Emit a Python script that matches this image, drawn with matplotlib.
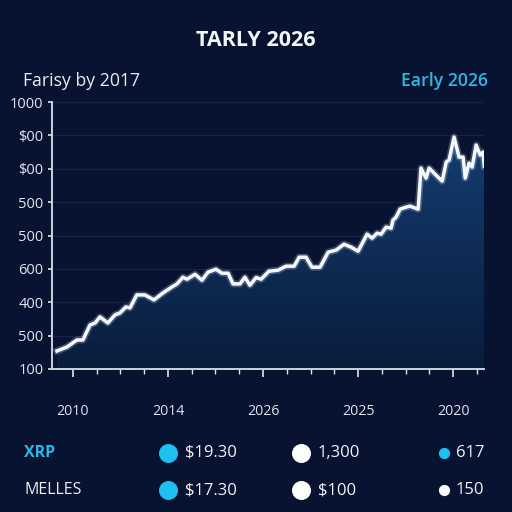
import numpy as np
import matplotlib.pyplot as plt
from matplotlib.path import Path
from matplotlib.patches import PathPatch
from matplotlib.colors import LinearSegmentedColormap

plt.rcParams['font.family'] = ['Open Sans', 'DejaVu Sans']

# line data (x in tick units, y in axis units)
xs = [-0.67, -0.25, 0.17, 0.42, 0.72, 0.93, 1.14, 1.47, 1.77, 1.98, 2.23, 2.40,
      2.69, 3.03, 3.41, 3.79, 4.17, 4.38, 4.63, 4.80, 5.14, 5.43, 5.68, 6.02,
      6.27, 6.53, 6.74, 7.03, 7.24, 7.45, 7.71, 7.92, 8.25, 8.63, 8.97, 9.31,
      9.52, 9.81, 10.06, 10.40, 10.74, 11.07, 11.41, 11.71, 12.00, 12.38, 12.59,
      12.80, 12.97, 13.18, 13.39, 13.47, 13.60, 13.77, 14.02, 14.19, 14.53,
      14.65, 14.86, 14.99, 15.28, 15.54, 15.71, 15.83, 16.04, 16.25, 16.42,
      16.51, 16.67, 16.80, 16.97, 17.14, 17.26, 17.31]
ys = [0.54, 0.66, 0.87, 0.87, 1.32, 1.38, 1.56, 1.38, 1.62, 1.68, 1.86, 1.83,
      2.22, 2.22, 2.07, 2.28, 2.46, 2.55, 2.75, 2.69, 2.84, 2.66, 2.90, 2.99,
      2.87, 2.87, 2.55, 2.55, 2.75, 2.51, 2.74, 2.69, 2.93, 2.96, 3.08, 3.08,
      3.35, 3.35, 3.05, 3.05, 3.50, 3.56, 3.74, 3.65, 3.53, 4.04, 3.92, 4.07,
      4.04, 4.25, 4.22, 4.46, 4.55, 4.79, 4.85, 4.88, 4.79, 6.02, 5.72, 6.02,
      5.81, 5.63, 6.20, 6.26, 6.95, 6.35, 6.35, 5.72, 6.17, 6.05, 6.71, 6.41,
      6.50, 6.08]

ytick_labels = ['100', '500', '400', '600', '500', '500', '$00', '$00', '1000']
xtick_labels = ['2010', '2014', '2026', '2025', '2020']

# bottom summary rows
row_names = ['XRP', 'MELLES']
row_name_colors = ['#2bb8e6', '#e8ecf4']
col1_vals = ['$19.30', '$17.30']
col2_vals = ['1,300', '$100']
col3_vals = ['617', '150']
col3_colors = ['#1ec0f0', '#ffffff']

bg = '#071330'
fig = plt.figure(figsize=(5.12, 5.12), dpi=100, facecolor=bg)
ax = fig.add_axes([52/512, 1 - 369/512, 432/512, 267/512])
ax.set_facecolor(bg)
ax.set_xlim(-0.88, 17.3)
ax.set_ylim(0, 8)

# gradient fill under line
verts = [(xs[0], 0)] + list(zip(xs, ys)) + [(xs[-1], 0)]
clip = PathPatch(Path(verts), facecolor='none', edgecolor='none')
ax.add_patch(clip)
grad = np.linspace(0, 1, 256).reshape(-1, 1)
cmap = LinearSegmentedColormap.from_list('f', ['#0a1c3c', '#143d70'])
im = ax.imshow(grad, cmap=cmap, aspect='auto', origin='lower',
               extent=[xs[0], xs[-1], 0, 7], zorder=1)
im.set_clip_path(clip)

ax.plot(xs, ys, color='#dfe9ff', lw=5, alpha=0.25, zorder=2)
ax.plot(xs, ys, color='#f4f8ff', lw=2.5, zorder=3)

for y in range(1, 9):
    ax.axhline(y, color='#14254a', lw=0.8, zorder=0)

ax.set_yticks(range(9))
ax.set_yticklabels(ytick_labels)
ax.set_xticks([0, 4, 8, 12, 16])
ax.set_xticks([1, 2, 3, 5, 6, 7, 9, 10, 11, 13, 14, 15, 17], minor=True)
ax.set_xticklabels(xtick_labels)
ax.tick_params(axis='y', colors='#dfe5ef', labelsize=10.5, length=3, width=1.2, pad=3)
ax.tick_params(axis='x', which='major', colors='#dfe5ef', labelsize=10.2,
               length=6, width=1.2, pad=19)
ax.tick_params(axis='x', which='minor', colors='#dfe5ef', length=3.5, width=1)
for s in ['top', 'right']:
    ax.spines[s].set_visible(False)
for s in ['left', 'bottom']:
    ax.spines[s].set_color('#c9d3e3')
    ax.spines[s].set_linewidth(1.4)

fig.text(0.5, 1 - 41/512, 'TARLY 2026', color='#f2f5fa', fontsize=15.5,
         fontweight='bold', ha='center', va='center')
fig.text(23/512, 1 - 81/512, 'Farisy by 2017', color='#e8ecf4', fontsize=12.7,
         ha='left', va='center')
fig.text(488/512, 1 - 81/512, 'Early 2026', color='#2bb8e6', fontsize=12.7,
         fontweight='semibold', ha='right', va='center')

# bottom rows
tab = fig.add_axes([0, 0, 1, 1], facecolor='none')
tab.set_xlim(0, 512)
tab.set_ylim(512, 0)
tab.axis('off')
row_y = [453, 490]
for i in range(len(row_names)):
    y = row_y[i]
    tab.text(24, y, row_names[i], color=row_name_colors[i], fontsize=11.5,
             fontweight='bold' if i == 0 else 'normal', va='center')
    tab.scatter([168], [y], s=160, color='#1ec0f0', zorder=3)
    tab.text(185, y, col1_vals[i], color='#f0f3f8', fontsize=12, va='center')
    tab.scatter([301], [y], s=160, color='#ffffff', zorder=3)
    tab.text(318, y, col2_vals[i], color='#f0f3f8', fontsize=12, va='center')
    tab.scatter([444], [y], s=50, color=col3_colors[i], zorder=3)
    tab.text(456, y, col3_vals[i], color='#f0f3f8', fontsize=12, va='center')

fig.savefig('out.png', dpi=100, facecolor=bg)
